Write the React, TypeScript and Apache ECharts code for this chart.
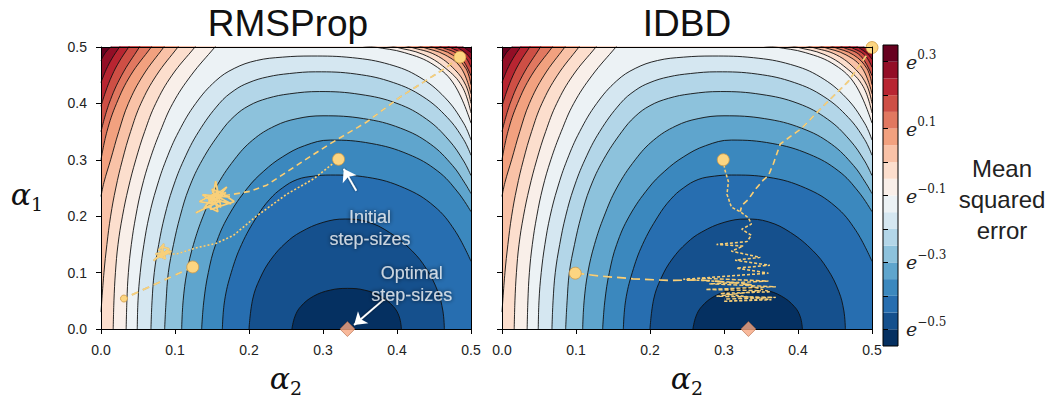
import React, { useEffect, useRef } from "react";
import * as echarts from "echarts";

// ---------- data ----------
const CONTOUR_LEVELS = [-0.5, -0.45, -0.4, -0.35, -0.3, -0.25, -0.2, -0.15, -0.1, -0.05, 0, 0.05, 0.1, 0.15, 0.2, 0.25, 0.3];
const COLORBAR_MIN = -0.55;
const COLORBAR_MAX = 0.35;
const COLORBAR_TICKS = [-0.5, -0.4, -0.3, -0.2, -0.1, 0, 0.1, 0.2, 0.3];
const COLORBAR_LABELS = [-0.5, -0.3, -0.1, 0.1, 0.3];

// contour lines, points are (alpha2, alpha1); "Left" pieces run from the bottom/left edge
// to the top edge, "Corner" pieces run from the top edge to the right edge
const contourL0 = [[0.258,0],[0.262,0.022],[0.27,0.04],[0.287,0.058],[0.31,0.069],[0.333,0.072],[0.356,0.069],[0.378,0.058],[0.395,0.04],[0.403,0.022],[0.406,0]];
const contourL1 = [[0.2,0],[0.205,0.053],[0.215,0.09],[0.23,0.124],[0.25,0.153],[0.27,0.172],[0.3,0.189],[0.33,0.195],[0.36,0.19],[0.39,0.171],[0.42,0.139],[0.44,0.106],[0.455,0.067],[0.462,0.032],[0.464,0]];
const contourL2 = [[0.164,0],[0.167,0.05],[0.176,0.1],[0.19,0.15],[0.211,0.2],[0.228,0.23],[0.245,0.25],[0.265,0.265],[0.287,0.271],[0.31,0.273],[0.36,0.269],[0.41,0.25],[0.45,0.218],[0.478,0.175],[0.5,0.12]];
const contourL3 = [[0.136,0],[0.139,0.05],[0.145,0.1],[0.155,0.15],[0.172,0.2],[0.198,0.25],[0.22,0.28],[0.245,0.305],[0.275,0.325],[0.31,0.335],[0.365,0.329],[0.415,0.31],[0.455,0.28],[0.482,0.243],[0.5,0.208]];
const contourL4 = [[0.109,0],[0.111,0.05],[0.116,0.1],[0.125,0.15],[0.138,0.2],[0.155,0.25],[0.18,0.3],[0.205,0.335],[0.235,0.36],[0.265,0.373],[0.3,0.378],[0.355,0.373],[0.405,0.356],[0.445,0.328],[0.475,0.29],[0.492,0.258],[0.5,0.24]];
const contourL5 = [[0.086,0],[0.088,0.05],[0.091,0.1],[0.098,0.15],[0.107,0.2],[0.119,0.25],[0.137,0.3],[0.162,0.35],[0.18,0.377],[0.2,0.396],[0.225,0.409],[0.255,0.417],[0.295,0.421],[0.35,0.416],[0.4,0.4],[0.44,0.372],[0.47,0.335],[0.49,0.298],[0.5,0.272]];
const contourL6 = [[0.0675,0],[0.069,0.05],[0.072,0.1],[0.078,0.15],[0.086,0.2],[0.097,0.25],[0.112,0.3],[0.132,0.35],[0.16,0.4],[0.18,0.423],[0.2,0.437],[0.225,0.447],[0.255,0.453],[0.29,0.456],[0.345,0.452],[0.395,0.437],[0.435,0.412],[0.468,0.375],[0.49,0.336],[0.5,0.308]];
const contourL7 = [[0.049,0],[0.05,0.05],[0.053,0.1],[0.058,0.15],[0.065,0.2],[0.075,0.25],[0.088,0.3],[0.105,0.35],[0.128,0.4],[0.155,0.44],[0.18,0.462],[0.21,0.476],[0.245,0.482],[0.285,0.484],[0.34,0.481],[0.39,0.469],[0.43,0.447],[0.465,0.41],[0.49,0.365],[0.5,0.335]];
const contourL8Left = [[0.034,0],[0.035,0.05],[0.037,0.1],[0.041,0.15],[0.047,0.2],[0.055,0.25],[0.066,0.3],[0.08,0.35],[0.097,0.4],[0.122,0.45],[0.154,0.5]];
const contourL8Corner = [[0.37,0.5],[0.41,0.49],[0.45,0.468],[0.478,0.432],[0.5,0.365]];
const contourL9Left = [[0.0165,0],[0.0175,0.05],[0.0195,0.1],[0.023,0.15],[0.029,0.2],[0.037,0.25],[0.047,0.3],[0.059,0.35],[0.074,0.4],[0.096,0.45],[0.127,0.5]];
const contourL9Corner = [[0.398,0.5],[0.435,0.487],[0.465,0.463],[0.488,0.43],[0.5,0.383]];
const contourL10Left = [[0,0.03],[0.004,0.1],[0.008,0.15],[0.013,0.2],[0.02,0.25],[0.029,0.3],[0.04,0.35],[0.054,0.4],[0.075,0.45],[0.104,0.5]];
const contourL10Corner = [[0.418,0.5],[0.452,0.486],[0.478,0.46],[0.493,0.432],[0.5,0.4]];
const contourL11Left = [[0,0.235],[0.004,0.26],[0.013,0.3],[0.024,0.35],[0.037,0.4],[0.057,0.45],[0.085,0.5]];
const contourL11Corner = [[0.434,0.5],[0.465,0.486],[0.487,0.462],[0.5,0.417]];
const contourL12Left = [[0,0.3],[0.008,0.35],[0.021,0.4],[0.04,0.45],[0.068,0.5]];
const contourL12Corner = [[0.448,0.5],[0.475,0.486],[0.493,0.462],[0.5,0.433]];
const contourL13Left = [[0,0.35],[0.011,0.4],[0.028,0.45],[0.052,0.5]];
const contourL13Corner = [[0.46,0.5],[0.484,0.485],[0.5,0.449]];
const contourL14Left = [[0,0.395],[0.006,0.42],[0.015,0.45],[0.025,0.475],[0.0375,0.5]];
const contourL14Corner = [[0.471,0.5],[0.49,0.486],[0.5,0.464]];
const contourL15Left = [[0,0.437],[0.007,0.46],[0.015,0.48],[0.025,0.5]];
const contourL15Corner = [[0.481,0.5],[0.494,0.488],[0.5,0.478]];
const contourL16Left = [[0,0.476],[0.006,0.49],[0.013,0.5]];
const contourL16Corner = [[0.49,0.5],[0.5,0.49]];

const CONTOURS: { main: number[][]; corner?: number[][] }[] = [
  { main: contourL0 }, { main: contourL1 }, { main: contourL2 }, { main: contourL3 },
  { main: contourL4 }, { main: contourL5 }, { main: contourL6 }, { main: contourL7 },
  { main: contourL8Left, corner: contourL8Corner }, { main: contourL9Left, corner: contourL9Corner },
  { main: contourL10Left, corner: contourL10Corner }, { main: contourL11Left, corner: contourL11Corner },
  { main: contourL12Left, corner: contourL12Corner }, { main: contourL13Left, corner: contourL13Corner },
  { main: contourL14Left, corner: contourL14Corner }, { main: contourL15Left, corner: contourL15Corner },
  { main: contourL16Left, corner: contourL16Corner },
];

// RMSProp trajectories
const rmsPath1 = [[0.485,0.482],[0.467,0.464],[0.404,0.411],[0.359,0.367],[0.309,0.328],[0.269,0.294],[0.224,0.255],[0.201,0.244],[0.179,0.239],[0.165,0.236]];
const rmsBlob1 = [[0.165,0.236],[0.145,0.228],[0.17,0.252],[0.152,0.222],[0.133,0.226],[0.16,0.244],[0.18,0.226],[0.148,0.212],[0.155,0.262],[0.162,0.216],[0.137,0.238],[0.174,0.234],[0.15,0.248],[0.158,0.208],[0.141,0.219],[0.169,0.242],[0.146,0.232],[0.176,0.222],[0.153,0.238],[0.139,0.214],[0.163,0.228],[0.128,0.206]];
const rmsPath2 = [[0.321,0.301],[0.287,0.266],[0.251,0.239],[0.21,0.2],[0.179,0.166],[0.156,0.152],[0.129,0.144],[0.102,0.133],[0.09,0.133]];
const rmsBlob2 = [[0.09,0.133],[0.078,0.14],[0.085,0.151],[0.08,0.127],[0.095,0.138],[0.074,0.133],[0.087,0.124],[0.082,0.146],[0.092,0.142],[0.076,0.126],[0.084,0.136],[0.071,0.121]];
const rmsPath3 = [[0.124,0.11],[0.031,0.054]];
const rmsStarts = [[0.485,0.482],[0.321,0.301],[0.124,0.11]];
const rmsEnds = [[0.031,0.054]];

// IDBD trajectories
const idbdPath1 = [[0.5,0.499],[0.468,0.439],[0.434,0.395],[0.405,0.356],[0.376,0.328],[0.367,0.294],[0.36,0.272],[0.353,0.264],[0.342,0.247],[0.333,0.23],[0.324,0.219],[0.322,0.208]];
const idbdPath2 = [[0.299,0.3],[0.301,0.283],[0.306,0.261],[0.304,0.239],[0.31,0.216],[0.322,0.208],[0.333,0.197],[0.337,0.186],[0.324,0.177],[0.337,0.166],[0.331,0.155],[0.29,0.15],[0.326,0.147],[0.31,0.138],[0.349,0.127],[0.315,0.122],[0.362,0.113],[0.317,0.108],[0.36,0.099],[0.245,0.088],[0.322,0.082],[0.362,0.066],[0.295,0.063],[0.364,0.052],[0.299,0.049],[0.349,0.052]];
const idbdPath3 = [[0.099,0.099],[0.132,0.094],[0.177,0.089],[0.227,0.086],[0.268,0.087],[0.313,0.082],[0.34,0.078]];
const idbdZigzag = [[0.27,0.09],[0.36,0.085],[0.28,0.08],[0.37,0.075],[0.275,0.07],[0.35,0.068],[0.29,0.058],[0.37,0.056],[0.3,0.053]];
const idbdStarts = [[0.5,0.499],[0.299,0.3],[0.099,0.099]];

const optimalPoint = [[0.333, 0]];
const arrowInitial = [[0.345, 0.245], [0.328, 0.284]];
const arrowOptimal = [[0.382, 0.052], [0.342, 0.007]];
const labelInitial = [0.3635, 0.179];
const labelOptimal = [0.42, 0.079];

// ---------- style helpers ----------
const RDBU_R = ["#053061", "#2166ac", "#4393c3", "#92c5de", "#d1e5f0", "#f7f7f7", "#fddbc7", "#f4a582", "#d6604d", "#b2182b", "#67001f"];
function hexToRgb(h: string) {
  return [parseInt(h.slice(1, 3), 16), parseInt(h.slice(3, 5), 16), parseInt(h.slice(5, 7), 16)];
}
function cmap(t: number) {
  const s = Math.max(0, Math.min(1, t)) * 10;
  const i = Math.min(9, Math.floor(s));
  const f = s - i;
  const a = hexToRgb(RDBU_R[i]);
  const b = hexToRgb(RDBU_R[i + 1]);
  const c = a.map((v, k) => Math.round(v + (b[k] - v) * f));
  return `rgb(${c[0]},${c[1]},${c[2]})`;
}
const BAND_EDGES = [COLORBAR_MIN, ...CONTOUR_LEVELS, COLORBAR_MAX];
const N_BANDS = BAND_EDGES.length - 1;
const bandColor = (i: number) => cmap(i / (N_BANDS - 1));

const SANS = '"Liberation Sans", Arial, Helvetica, sans-serif';
const SERIF = '"DejaVu Serif", serif';
const TRAJ = "#f8d07a";

// pixel scale of the panels, used only to build off-canvas helper points so that the
// smoothed fill joins the two pieces of a level above the (clipped) top edge
const PX_X = 740, PX_Y = 598;
function beyond(p: number[], q: number[], px: number) {
  const dx = (p[0] - q[0]) * PX_X, dy = (p[1] - q[1]) * PX_Y;
  const len = Math.hypot(dx, dy) || 1;
  return [p[0] + (dx / len) * px / PX_X, p[1] + (dy / len) * px / PX_Y];
}
function levelPath(c: { main: number[][]; corner?: number[][] }) {
  if (!c.corner) return c.main;
  const m = c.main, k = c.corner;
  const a = beyond(m[m.length - 1], m[m.length - 2], 16);
  const b = beyond(k[0], k[1], 16);
  const mid = [(a[0] + b[0]) / 2, 0.62];
  return [...m, a, mid, b, ...k];
}

const ALPHA_RICH = {
  a: { fontFamily: SERIF, fontStyle: "italic", fontSize: 30, color: "#111", lineHeight: 38 },
  s: { fontFamily: SERIF, fontSize: 19, color: "#111", verticalAlign: "bottom" },
};

function mainAxes(gi: number, showYLabels: boolean, withYName: boolean) {
  const common = {
    type: "value", gridIndex: gi, min: 0, max: 0.5, interval: 0.1, z: 10,
    splitLine: { show: false },
    axisLine: { show: true, onZero: false, lineStyle: { color: "#000", width: 1 } },
    axisTick: { show: true, length: 5, lineStyle: { color: "#000", width: 1 } },
  };
  const x = {
    ...common,
    position: "bottom",
    axisLabel: { show: true, formatter: (v: number) => v.toFixed(1), color: "#222", fontSize: 14, fontFamily: SANS, margin: 14 },
    name: "{a|α}{s|2}", nameLocation: "middle", nameGap: 30, nameTextStyle: { rich: ALPHA_RICH },
  };
  const xTop = { type: "value", gridIndex: gi, position: "top", min: 0, max: 0.5, z: 10, splitLine: { show: false },
    axisLine: { show: true, onZero: false, lineStyle: { color: "#000", width: 1 } }, axisTick: { show: false }, axisLabel: { show: false } };
  const y: any = {
    ...common,
    position: "left",
    axisLabel: { show: showYLabels, formatter: (v: number) => v.toFixed(1), color: "#222", fontSize: 14, fontFamily: SANS, margin: 14 },
  };
  if (withYName) {
    y.name = "{a|α}{s|1}";
    y.nameLocation = "middle";
    y.nameRotate = 0;
    y.nameGap = 58;
    y.nameTextStyle = { rich: ALPHA_RICH, padding: [12, 0, 0, 0] };
  }
  const yRight = { type: "value", gridIndex: gi, position: "right", min: 0, max: 0.5, z: 10, splitLine: { show: false },
    axisLine: { show: true, onZero: false, lineStyle: { color: "#000", width: 1 } }, axisTick: { show: false }, axisLabel: { show: false } };
  return { x: [x, xTop], y: [y, yRight] };
}

function panelSeries(ax: number, isRms: boolean) {
  const s: any[] = [];
  for (let k = CONTOURS.length - 1; k >= 0; k--) {
    s.push({
      type: "line", xAxisIndex: ax, yAxisIndex: ax, data: levelPath(CONTOURS[k]), smooth: 0.4, symbol: "none",
      silent: true, z: 1, clip: true,
      lineStyle: { color: "#111", width: 0.9 },
      areaStyle: { color: bandColor(k), opacity: 1, origin: "start" },
    });
  }
  const traj = (data: number[][], dash: any, width: number) => ({
    type: "line", xAxisIndex: ax, yAxisIndex: ax, data, symbol: "none", silent: true, z: 5, clip: true,
    lineStyle: { color: TRAJ, width, type: dash, shadowColor: "rgba(60,40,0,0.45)", shadowBlur: 1.5 },
  });
  const markers = (data: number[][], size: number) => ({
    type: "scatter", xAxisIndex: ax, yAxisIndex: ax, data, symbolSize: size, z: 6, clip: false, silent: true,
    itemStyle: { color: "#fcd581", borderColor: "#d09a45", borderWidth: 0.8, opacity: 1 },
  });
  if (isRms) {
    s.push(traj(rmsPath1, [6, 4], 1.6));
    s.push(traj(rmsBlob1, "solid", 1.8));
    s.push(traj(rmsPath2, [2, 2], 1.6));
    s.push(traj(rmsBlob2, "solid", 1.8));
    s.push(traj(rmsPath3, [7, 5], 1.8));
    s.push(markers(rmsStarts, 12));
    s.push(markers(rmsEnds, 7));
    s.push({
      type: "lines", coordinateSystem: "cartesian2d", xAxisIndex: ax, yAxisIndex: ax, z: 7, silent: true,
      symbol: ["none", "arrow"], symbolSize: 12,
      lineStyle: { color: "#fff", width: 1.8, opacity: 1, shadowColor: "rgba(0,0,0,0.7)", shadowBlur: 2 },
      data: [{ coords: arrowInitial }, { coords: arrowOptimal }],
    });
    const lbl = (pt: number[], text: string) => ({
      type: "scatter", xAxisIndex: ax, yAxisIndex: ax, data: [pt], symbolSize: 1, z: 7, silent: true,
      itemStyle: { color: "rgba(0,0,0,0)" },
      label: {
        show: true, position: "inside", formatter: text, color: "#f2f2f2", fontSize: 18, lineHeight: 22,
        fontFamily: SANS, align: "center", textShadowColor: "rgba(0,0,0,0.95)", textShadowBlur: 4,
      },
    });
    s.push(lbl(labelInitial, "Initial\nstep-sizes"));
    s.push(lbl(labelOptimal, "Optimal\nstep-sizes"));
  } else {
    s.push(traj(idbdPath1, [6, 4], 1.6));
    s.push(traj(idbdPath2, [3, 2], 1.5));
    s.push(traj(idbdZigzag, [4, 2], 1.4));
    s.push(traj(idbdPath3, [9, 5], 1.7));
    s.push(markers(idbdStarts, 12));
  }
  s.push({
    type: "scatter", xAxisIndex: ax, yAxisIndex: ax, data: optimalPoint, symbol: "diamond", symbolSize: [15, 15],
    z: 12, clip: false, silent: true,
    itemStyle: { color: "#f8a882", borderColor: "#a85a36", borderWidth: 0.7 },
  });
  return s;
}

function fmtExp(v: number) {
  const r = Math.round(v * 10) / 10;
  return (r < 0 ? "\u2212" : "") + Math.abs(r).toFixed(1);
}

export default function App() {
  const ref = useRef<HTMLDivElement>(null);
  useEffect(() => {
    if (!ref.current) return;
    const chart = echarts.init(ref.current, undefined, { renderer: "svg" });
    const left = mainAxes(0, true, true);
    const right = mainAxes(1, false, false);
    const bands = BAND_EDGES.slice(0, -1).map((lo, i) => [lo, BAND_EDGES[i + 1], i]);
    const option: any = {
      animation: false,
      backgroundColor: "#fff",
      grid: [
        { left: 101, top: 47, width: 370, height: 299, show: true, backgroundColor: bandColor(N_BANDS - 1), borderWidth: 0 },
        { left: 502, top: 47, width: 370, height: 299, show: true, backgroundColor: bandColor(N_BANDS - 1), borderWidth: 0 },
        { left: 883, top: 45, width: 15, height: 301, show: false },
      ],
      xAxis: [
        ...left.x, ...right.x,
        { type: "value", gridIndex: 2, min: 0, max: 1, show: false },
      ],
      yAxis: [
        ...left.y, ...right.y,
        {
          type: "value", gridIndex: 2, min: COLORBAR_MIN, max: COLORBAR_MAX, position: "right", z: 10,
          splitLine: { show: false },
          axisLine: { show: false },
          axisTick: { show: true, length: 5, customValues: COLORBAR_TICKS, lineStyle: { color: "#000" } },
          axisLabel: {
            show: true, customValues: COLORBAR_LABELS, margin: 8,
            formatter: (v: number) => `{e|e}{s|${fmtExp(v)}}`,
            rich: {
              e: { fontFamily: SERIF, fontStyle: "italic", fontSize: 19, lineHeight: 26, color: "#222" },
              s: { fontFamily: SERIF, fontSize: 12, verticalAlign: "top", color: "#222" },
            },
          },
        },
      ],
      series: [
        ...panelSeries(0, true),
        ...panelSeries(2, false),
        {
          type: "custom", xAxisIndex: 4, yAxisIndex: 4, data: bands, silent: true, z: 2,
          renderItem: (_p: any, api: any) => {
            const p1 = api.coord([0, api.value(1)]);
            const p2 = api.coord([1, api.value(0)]);
            return { type: "rect", shape: { x: p1[0], y: p1[1], width: p2[0] - p1[0], height: p2[1] - p1[1] }, style: { fill: bandColor(api.value(2)) } };
          },
        },
        {
          type: "custom", xAxisIndex: 4, yAxisIndex: 4, data: [[COLORBAR_MIN, COLORBAR_MAX]], silent: true, z: 3,
          renderItem: (_p: any, api: any) => {
            const p1 = api.coord([0, api.value(1)]);
            const p2 = api.coord([1, api.value(0)]);
            return { type: "rect", shape: { x: p1[0], y: p1[1], width: p2[0] - p1[0], height: p2[1] - p1[1] }, style: { fill: "none", stroke: "#000", lineWidth: 1 } };
          },
        },
      ],
      graphic: [
        { type: "text", x: 288, y: 23, style: { text: "RMSProp", font: `37px ${SANS}`, fill: "#111", align: "center", verticalAlign: "middle" } },
        { type: "text", x: 687, y: 23, style: { text: "IDBD", font: `37px ${SANS}`, fill: "#111", align: "center", verticalAlign: "middle" } },
        { type: "text", x: 1002, y: 199, style: { text: "Mean\nsquared\nerror", font: `24px ${SANS}`, lineHeight: 31, fill: "#222", align: "center", verticalAlign: "middle" } },
      ],
    };
    chart.setOption(option);
    return () => chart.dispose();
  }, []);
  return <div ref={ref} style={{ position: "absolute", left: 0, top: 0, width: 1052, height: 402 }} />;
}
